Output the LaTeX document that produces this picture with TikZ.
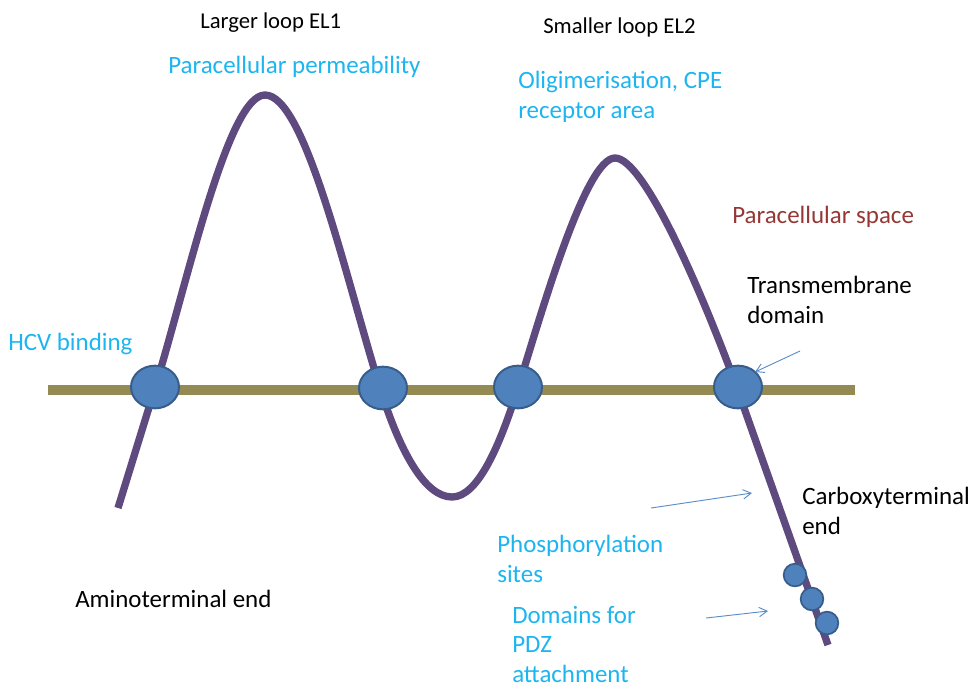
\documentclass[tikz,border=0pt]{standalone}
\usepackage{fontspec}
\setmainfont{Carlito}
\usetikzlibrary{arrows.meta,shapes.geometric}
\definecolor{chain}{HTML}{5E4A7E}
\definecolor{memb}{HTML}{948A54}
\definecolor{tmfill}{HTML}{4F81BD}
\definecolor{tmdraw}{HTML}{385D8A}
\definecolor{cyantxt}{HTML}{1CB5F0}
\definecolor{browntxt}{HTML}{953735}
\definecolor{arrowc}{HTML}{5B8DC9}
\begin{document}
\begin{tikzpicture}[x=0.75pt,y=-0.75pt,
  lbl/.style={font=\fontsize{18.7}{22}\selectfont, inner sep=0pt, anchor=base west, align=left},
  ttl/.style={font=\fontsize{17}{21}\selectfont, inner sep=0pt, anchor=base west, text=black},
  blk/.style={lbl, text=black},
  cyn/.style={lbl, text=cyantxt},
  brn/.style={lbl, text=browntxt},
  tm/.style={ellipse, draw=tmdraw, fill=tmfill, line width=1.5pt, minimum width=36pt, minimum height=32pt, inner sep=0pt},
  pdz/.style={circle, draw=tmdraw, fill=tmfill, line width=1.3pt, minimum size=17pt, inner sep=0pt},
  pointer/.style={draw=arrowc, line width=0.7pt, -{Straight Barb[length=6pt,width=7pt]}}
]
\useasboundingbox (0,0) rectangle (977,686);
% membrane
\coordinate (mL) at (48,390);
\coordinate (mR) at (855,390);
\draw[memb, line width=7.5pt] (mL) -- (mR);
% chain
\coordinate (nstart) at (118,508);
\coordinate (c1) at (155,388);
\coordinate (p1) at (265,95);
\coordinate (c2) at (380,388);
\coordinate (t1) at (452,497);
\coordinate (c3) at (518,388);
\coordinate (p2) at (615,158);
\coordinate (c4) at (737,388);
\coordinate (cend) at (828,645);
\draw[chain, line width=5.5pt, line cap=butt, line join=round]
  (nstart) -- (c1)
  .. controls (188,280) and (228,95) .. (p1)
  .. controls (305,95) and (345,275) .. (c2)
  .. controls (400,452) and (425,497) .. (t1)
  .. controls (478,497) and (500,445) .. (c3)
  .. controls (540,318) and (585,158) .. (p2)
  .. controls (645,158) and (705,300) .. (c4)
  -- (cend);
% transmembrane domains
\node[tm] (tm1) at (155,387) {};
\node[tm] (tm2) at (383,388) {};
\node[tm] (tm3) at (518,387) {};
\node[tm] (tm4) at (738,387) {};
% PDZ domains
\node[pdz] (d1) at (795,575) {};
\node[pdz] (d2) at (812,599) {};
\node[pdz] (d3) at (827,623) {};
% labels (base = baseline of last line)
\node[ttl] (el1) at (200,28) {Larger loop EL1};
\node[ttl] (el2) at (543,33) {Smaller loop EL2};
\node[cyn] (perm) at (168,73) {Paracellular permeability};
\node[cyn] (olig) at (518,118) {Oligimerisation, CPE\\receptor area};
\node[brn] (space) at (732,223) {Paracellular space};
\node[blk] (tmd) at (747,323) {Transmembrane\\domain};
\node[cyn] (hcv) at (8,350) {HCV binding};
\node[blk] (carb) at (802,534) {Carboxyterminal\\end};
\node[cyn] (phos) at (497,582) {Phosphorylation\\sites};
\node[cyn] (pdzl) at (512,682) {Domains for\\PDZ\\attachment};
\node[blk] (amino) at (75,607) {Aminoterminal end};
% pointers
\coordinate (a1s) at (800,351);
\coordinate (a1e) at (755,372);
\coordinate (a2s) at (651,508);
\coordinate (a2e) at (752,493);
\coordinate (a3s) at (706,618);
\coordinate (a3e) at (768,611);
\draw[pointer] (a1s) -- (a1e);
\draw[pointer] (a2s) -- (a2e);
\draw[pointer] (a3s) -- (a3e);
\end{tikzpicture}
\end{document}
